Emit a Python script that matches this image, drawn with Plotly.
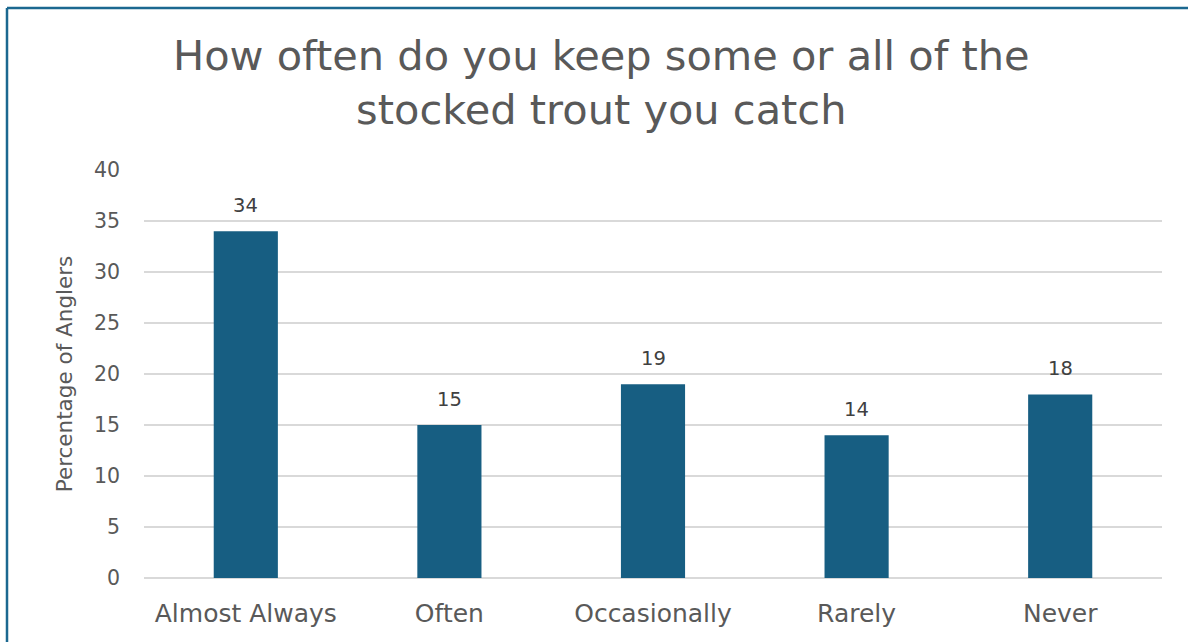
import plotly.graph_objects as go

categories = ["Almost Always", "Often", "Occasionally", "Rarely", "Never"]
values = [34, 15, 19, 14, 18]
y_ticks = [0, 5, 10, 15, 20, 25, 30, 35, 40]
title_text = "How often do you keep some or all of the<br>stocked trout you catch"
y_title = "Percentage of Anglers"

FONT = "DejaVu Sans"
TXT = "#595959"

L, R, T, B = 144, 26, 170, 64
W, H = 1188, 642
pw, ph = W - L - R, H - T - B


def px(x):
    return (x - L) / pw


def py(y):
    return (H - B - y) / ph


fig = go.Figure(go.Bar(
    x=categories, y=values,
    marker=dict(color="#175e82", line=dict(width=0)),
    width=0.315, hoverinfo="x+y",
))

# data labels
for c, v in zip(categories, values):
    fig.add_annotation(x=c, y=v, xref="x", yref="y", text=str(v), showarrow=False,
                       yanchor="bottom", yshift=12,
                       font=dict(family=FONT, size=19.5, color="#404040"))

# title
fig.add_annotation(x=px(601), xref="paper", xanchor="center",
                   y=py(82), yref="paper", yanchor="middle",
                   text=title_text, showarrow=False,
                   font=dict(family=FONT, size=41.5, color=TXT))

border = "#1b6890"
fig.add_shape(type="line", xref="paper", yref="paper",
              x0=px(7), x1=px(1300), y0=py(8), y1=py(8),
              line=dict(color=border, width=2.5))
fig.add_shape(type="line", xref="paper", yref="paper",
              x0=px(7), x1=px(7), y0=py(8), y1=py(700),
              line=dict(color=border, width=2.5))

fig.update_layout(
    width=W, height=H,
    margin=dict(l=L, r=R, t=T, b=B),
    paper_bgcolor="white", plot_bgcolor="white",
    font=dict(family=FONT, color=TXT),
    showlegend=False,
    xaxis=dict(showline=False, ticks="", tickfont=dict(size=25, color=TXT, family=FONT),
               showgrid=False, ticklabelstandoff=18),
    yaxis=dict(range=[0, 40], tickvals=y_ticks, showgrid=True, gridcolor="#d9d9d9",
               gridwidth=2, zeroline=True, zerolinecolor="#d9d9d9", zerolinewidth=2,
               ticks="", tickfont=dict(size=20.5, color=TXT, family=FONT), ticklabelstandoff=23,
               title=dict(text=y_title, font=dict(size=21.5, color=TXT, family=FONT),
                          standoff=15)),
)

fig.write_html("out.html")
